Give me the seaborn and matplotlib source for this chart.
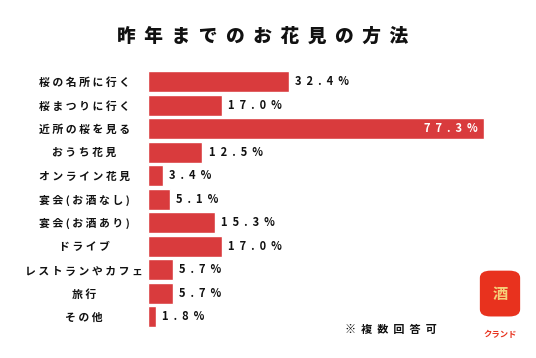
import numpy as np
import pandas as pd
import seaborn as sns
import matplotlib.pyplot as plt
from matplotlib.patches import FancyBboxPatch

# data
categories = ['桜の名所に行く', '桜まつりに行く', '近所の桜を見る', 'おうち花見', 'オンライン花見',
              '宴会(お酒なし)', '宴会(お酒あり)', 'ドライブ', 'レストランやカフェ', '旅行', 'その他']
values = [32.4, 17.0, 77.3, 12.5, 3.4, 5.1, 15.3, 17.0, 5.7, 5.7, 1.8]
title = '昨年までのお花見の方法'
note = '※複数回答可'

BAR_COLOR = '#d93b3d'
FONTS = ['Noto Sans CJK JP', 'DejaVu Sans']


def spaced(s, sep=' '):
    return sep.join(list(s))


df = pd.DataFrame({'category': categories, 'value': values})

sns.set_theme(style='white')
plt.rcParams['font.family'] = FONTS

fig = plt.figure(figsize=(5.36, 3.58), dpi=100)
ax = fig.add_axes([148 / 536, 0.0827, 4.35 * 85 / 536, 0.722])

sns.barplot(data=df, x='value', y='category', color=BAR_COLOR, saturation=1,
            width=0.9, ax=ax, orient='h')

ax.set_xlim(0, 85)
ax.set_xlabel('')
ax.set_ylabel('')
ax.set_xticks([])
sns.despine(ax=ax, left=True, bottom=True)

ax.set_yticks(range(len(categories)))
ax.set_yticklabels([spaced(c) for c in categories], fontsize=7.8, fontweight='bold',
                   ha='center', color='#111111')
ax.tick_params(axis='y', length=0, pad=46)

# value labels
for i, v in enumerate(values):
    txt = spaced(f'{v:.1f}%', '  ')
    if v > 60:
        ax.annotate(txt, (v, i), xytext=(-5, 0), textcoords='offset points',
                    ha='right', va='center', color='white', fontsize=8, fontweight='bold')
    else:
        ax.annotate(txt, (v, i), xytext=(4.5, 0), textcoords='offset points',
                    ha='left', va='center', color='#111111', fontsize=8, fontweight='bold')

fig.text(0.49, 0.90, spaced(title, '  '), ha='center', va='center',
         fontsize=13.5, fontweight='heavy', color='#111111')

fig.text(0.644, 0.08, spaced(note, '  '), ha='left', va='center', fontsize=8,
         fontweight='bold', color='#111111')

# simple logo stand-in
logo = FancyBboxPatch((482 / 536, 0.12), 36 / 536, 0.12,
                      boxstyle='round,pad=0.004,rounding_size=0.02',
                      transform=fig.transFigure, facecolor='#e8321e', edgecolor='none')
fig.patches.append(logo)
fig.text(500 / 536, 0.18, '酒', ha='center', va='center', fontsize=11,
         fontweight='bold', color='#f6d07a')
fig.text(500 / 536, 0.065, 'クランド', ha='center', va='center', fontsize=6,
         fontweight='bold', color='#e8321e')

fig.savefig('out.png', dpi=100)
